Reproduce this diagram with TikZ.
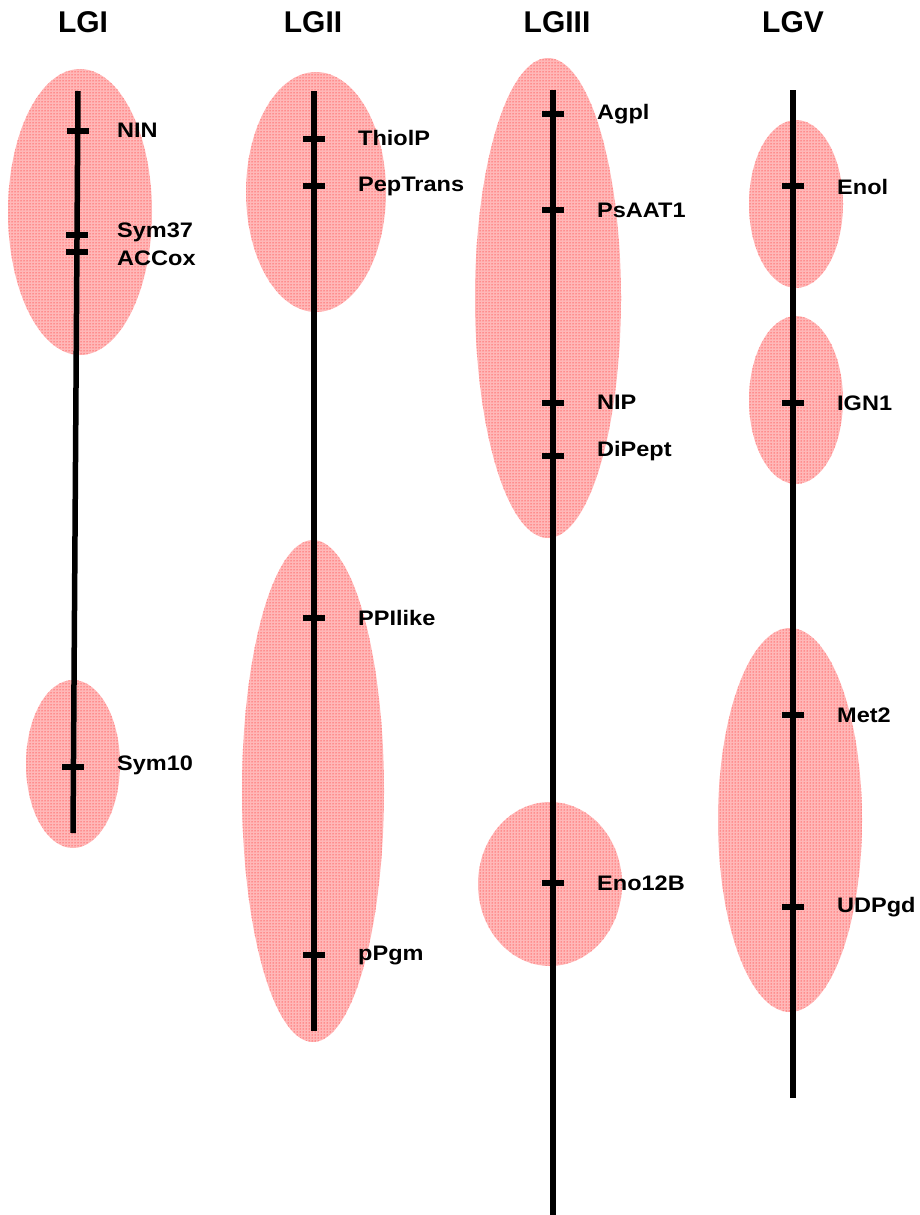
\documentclass[tikz,border=0pt]{standalone}
\usepackage{fontspec}
\setmainfont{Liberation Sans}
\newfontfamily\lblfont[FakeStretch=1.12]{Liberation Sans}
\usetikzlibrary{patterns}
\tikzset{
  region/.style={fill=red!28, draw=none, postaction={pattern=dots, pattern color=red}},
  chrom/.style={line width=5.5pt, line cap=butt},
  tickmark/.style={line width=5.5pt},
  lbl/.style={anchor=west, inner sep=0pt, font=\lblfont\bfseries\fontsize{21}{23}\selectfont},
  title/.style={inner sep=0pt, font=\bfseries\fontsize{30}{32}\selectfont},
}
\begin{document}
\begin{tikzpicture}[x=1pt,y=-1pt]
\useasboundingbox (0,0) rectangle (920,1215);
% regions
\path[region] (80,212) ellipse [x radius=72, y radius=143];
\path[region] (73,764) ellipse [x radius=47, y radius=84];
\path[region] (316,192) ellipse [x radius=70, y radius=120];
\path[region] (313,791) ellipse [x radius=71, y radius=251];
\path[region] (548,298) ellipse [x radius=73, y radius=240];
\path[region] (550,884) ellipse [x radius=72, y radius=82];
\path[region] (796,204) ellipse [x radius=47, y radius=84];
\path[region] (796,400) ellipse [x radius=47, y radius=84];
\path[region] (790,820) ellipse [x radius=72, y radius=192];
% titles
\node[title] (t1) at (83,22) {LGI};
\node[title] (t2) at (313,22) {LGII};
\node[title] (t3) at (557,22) {LGIII};
\node[title] (t5) at (793,22) {LGV};
% chromosome ends
\coordinate (a1) at (78,91);  \coordinate (b1) at (73,833);
\coordinate (a2) at (314,91); \coordinate (b2) at (314,1031);
\coordinate (a3) at (553,90); \coordinate (b3) at (553,1215);
\coordinate (a5) at (793,90); \coordinate (b5) at (793,1098);
\draw[chrom] (a1) -- (b1);
\draw[chrom] (a2) -- (b2);
\draw[chrom] (a3) -- (b3);
\draw[chrom] (a5) -- (b5);
% ticks LGI (slanted line: x = 78 - 5*(y-91)/742)
\foreach \y in {131,235,252,767}{
  \pgfmathsetmacro\xx{78-5*(\y-91)/742}
  \draw[tickmark] (\xx-11,\y) -- (\xx+11,\y);
}
\foreach \y in {139,186,618,955}{\draw[tickmark] (303,\y) -- (325,\y);}
\foreach \y in {114,210,403,456,883}{\draw[tickmark] (542,\y) -- (564,\y);}
\foreach \y in {186,403,715,907}{\draw[tickmark] (782,\y) -- (804,\y);}
% labels
\node[lbl] (nin) at (117,130) {NIN};
\node[lbl] (sym37) at (117,232) {Sym37};
\node[lbl] (accox) at (117,258) {ACCox};
\node[lbl] (sym10) at (117,765) {Sym10};
\node[lbl] (thiol) at (358,138) {ThiolP};
\node[lbl] (pept) at (358,186) {PepTrans};
\node[lbl] (ppi) at (358,618) {PPIlike};
\node[lbl] (ppgm) at (358,955) {pPgm};
\node[lbl] (agpl) at (597,114) {Agpl};
\node[lbl] (psaat) at (597,210) {PsAAT1};
\node[lbl] (nip) at (597,402) {NIP};
\node[lbl] (dipept) at (597,451) {DiPept};
\node[lbl] (eno12b) at (597,883) {Eno12B};
\node[lbl] (enol) at (837,187) {Enol};
\node[lbl] (ign1) at (837,403) {IGN1};
\node[lbl] (met2) at (837,715) {Met2};
\node[lbl] (udpgd) at (837,907) {UDPgd};
\end{tikzpicture}
\end{document}
